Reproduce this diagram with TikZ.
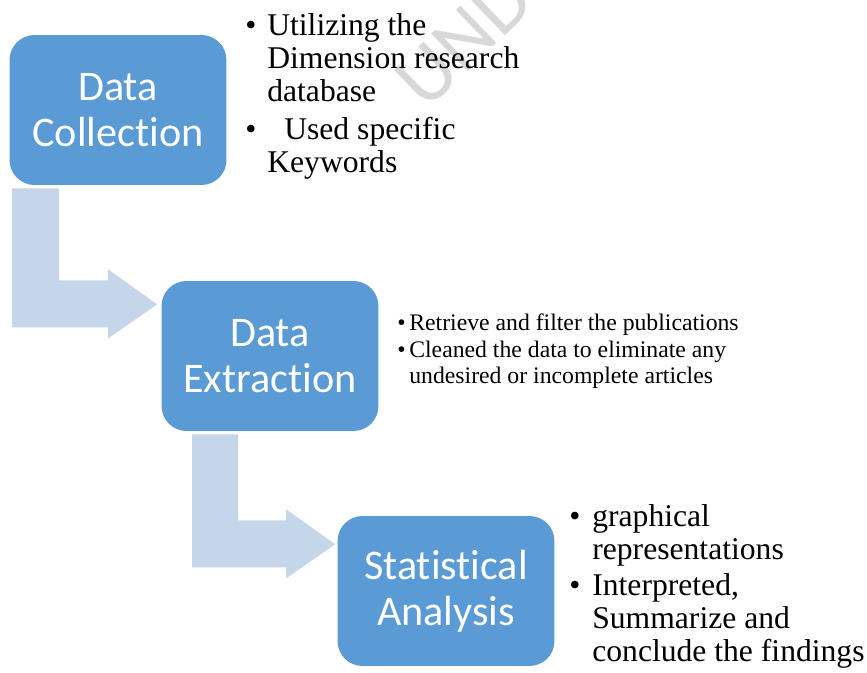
\documentclass[tikz,border=0pt]{standalone}
\usepackage{fontspec}
\setmainfont{Liberation Serif}
\newfontfamily\boxfont[Ligatures=NoCommon]{Carlito}
\usetikzlibrary{calc}
\definecolor{stepblue}{HTML}{5B9BD5}
\definecolor{flowblue}{HTML}{C5D5EA}
\definecolor{markgray}{HTML}{D8D8D8}

\begin{document}
\begin{tikzpicture}[x=0.02cm,y=-0.02cm,
  stage/.style={rectangle,rounded corners=0.5cm,fill=stepblue,
                minimum width=4.34cm,minimum height=3cm,inner sep=0pt,
                text=white,font=\boxfont\fontsize{24}{26}\selectfont,align=center},
  flow/.style={fill=flowblue},
  notes/.style={anchor=north west,inner sep=0pt}
]
\useasboundingbox (0,0) rectangle (867,673);

% ---- watermark ----------------------------------------------
\begin{scope}
  \clip (0,0) rectangle (867,673);
  \node[anchor=base west,rotate=44,inner sep=0pt,text=markgray,
        font=\boxfont\fontsize{46}{46}\selectfont] (wm) at (426,112) {UNDE};
\end{scope}

% ---- stages -------------------------------------------------
\node[stage] (dc) at (118,110) {Data\\Collection};
\node[stage] (de) at (270,356) {Data\\Extraction};
\node[stage] (sa) at (446,591) {Statistical\\Analysis};

% ---- bent arrows --------------------------------------------
\fill[flow] ($(dc.south west)+(3,3)$) -- ++(47,0) -- ++(0,92) -- ++(49,0) -- ++(0,-11)
  -- ++(49,35) -- ++(-49,34) -- ++(0,-11) -- ++(-96,0) -- cycle;
\fill[flow] ($(de.south west)+(31,3)$) -- ++(46,0) -- ++(0,86) -- ++(48,0) -- ++(0,-11)
  -- ++(49,35) -- ++(-49,34) -- ++(0,-11) -- ++(-94,0) -- cycle;

% ---- notes --------------------------------------------------
\node[notes,font=\fontsize{18}{18.8}\selectfont] (n1) at (245,12)
  {\begin{tabular}{@{}p{0.44cm}@{}l@{}}
   \textbullet & Utilizing the\\
               & Dimension research\\
               & database\\[2.8pt]
   \textbullet & \hspace{0.34cm}Used specific\\
               & Keywords
   \end{tabular}};
\node[notes,font=\fontsize{13.5}{14.8}\selectfont] (n2) at (397,312)
  {\begin{tabular}{@{}p{0.24cm}@{}l@{}}
   \textbullet & Retrieve and filter the publications\\[0.6pt]
   \textbullet & Cleaned the data to eliminate any\\
               & undesired or incomplete articles
   \end{tabular}};
\node[notes,font=\fontsize{18}{18.8}\selectfont] (n3) at (569,503)
  {\begin{tabular}{@{}p{0.46cm}@{}l@{}}
   \textbullet & graphical\\
               & representations\\[1.5pt]
   \textbullet & Interpreted,\\
               & Summarize and\\
               & conclude the findings
   \end{tabular}};

\end{tikzpicture}
\end{document}
